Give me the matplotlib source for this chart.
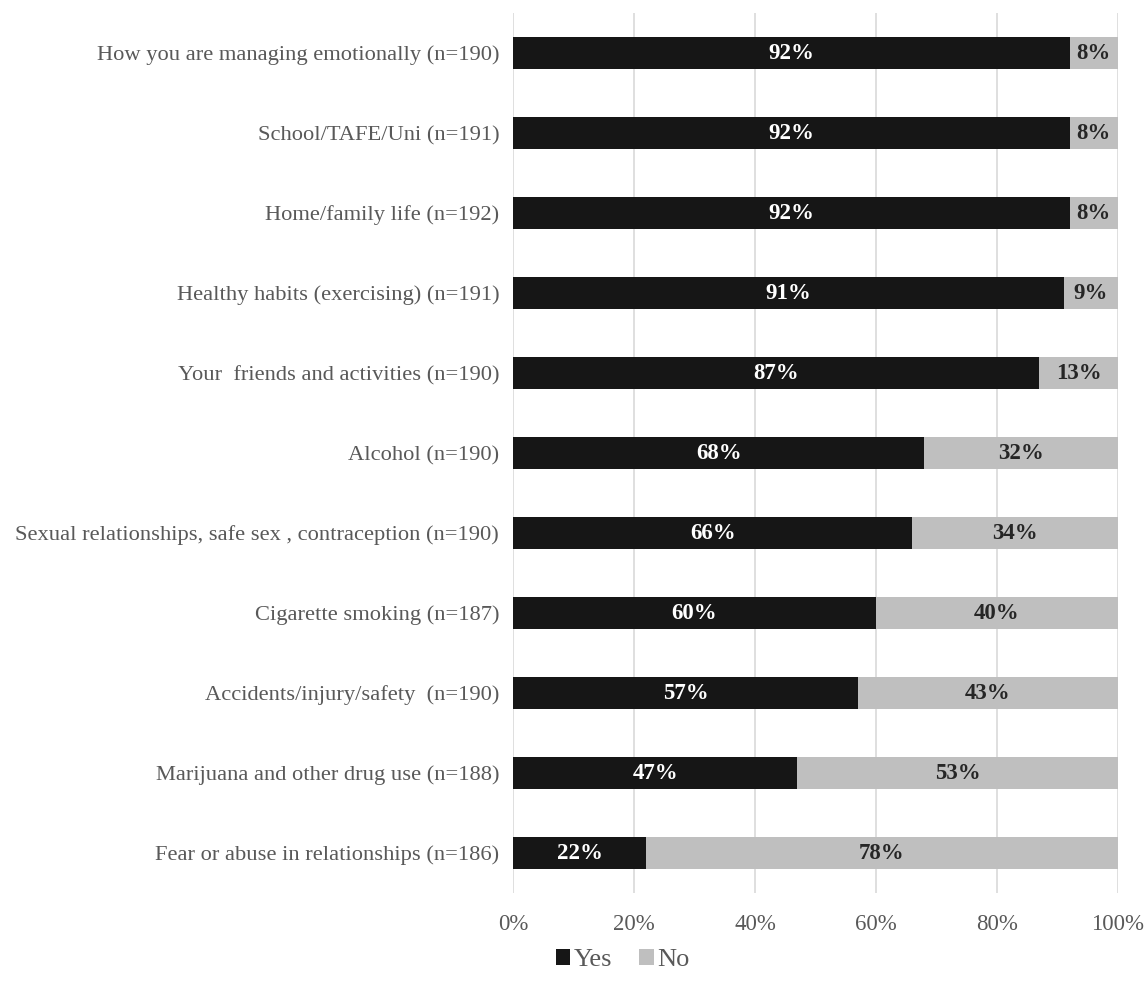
import numpy as np
import matplotlib.pyplot as plt

categories = [
    "How you are managing emotionally (n=190)",
    "School/TAFE/Uni (n=191)",
    "Home/family life (n=192)",
    "Healthy habits (exercising) (n=191)",
    "Your  friends and activities (n=190)",
    "Alcohol (n=190)",
    "Sexual relationships, safe sex , contraception (n=190)",
    "Cigarette smoking (n=187)",
    "Accidents/injury/safety  (n=190)",
    "Marijuana and other drug use (n=188)",
    "Fear or abuse in relationships (n=186)",
]
yes = [92, 92, 92, 91, 87, 68, 66, 60, 57, 47, 22]
no = [8, 8, 8, 9, 13, 32, 34, 40, 43, 53, 78]

plt.rcParams['font.family'] = ['Liberation Serif', 'DejaVu Serif']

fig = plt.figure(figsize=(11.47, 9.94), dpi=100)
ax = fig.add_axes([0.4473, 0.1016, 0.5274, 0.8853])

y = np.arange(len(categories))
black = "#161616"
grey = "#bfbfbf"
b1 = ax.barh(y, yes, height=0.4, color=black, label="Yes", zorder=3)
b2 = ax.barh(y, no, left=yes, height=0.4, color=grey, label="No", zorder=3)

for i in range(len(categories)):
    ax.text(yes[i] / 2, y[i], f"{yes[i]}%", ha="center", va="center",
            color="white", fontsize=16.5, fontweight="bold", zorder=4)
    ax.text(yes[i] + no[i] / 2, y[i], f"{no[i]}%", ha="center", va="center",
            color="#262626", fontsize=16.5, fontweight="bold", zorder=4)

ax.set_xlim(0, 100)
ax.set_ylim(len(categories) - 0.5, -0.5)
ax.set_yticks(y)
ax.set_yticklabels(categories)
ax.set_xticks(np.arange(0, 101, 20))
ax.set_xticklabels([f"{v}%" for v in range(0, 101, 20)])
ax.tick_params(axis="both", length=0, colors="#595959")
ax.tick_params(axis="y", pad=10, labelsize=16.2)
ax.tick_params(axis="x", pad=15, labelsize=16.5)
ax.xaxis.grid(True, color="#d9d9d9", linewidth=1.2, zorder=0)
for s in ax.spines.values():
    s.set_visible(False)

leg = fig.legend(handles=[b1, b2], loc="center", bbox_to_anchor=(0.543, 0.034),
                 ncol=2, frameon=False, fontsize=19, handlelength=0.55,
                 handleheight=0.55, handletextpad=0.15, columnspacing=1.0)
for t in leg.get_texts():
    t.set_color("#595959")

fig.savefig("out.png", dpi=100)
